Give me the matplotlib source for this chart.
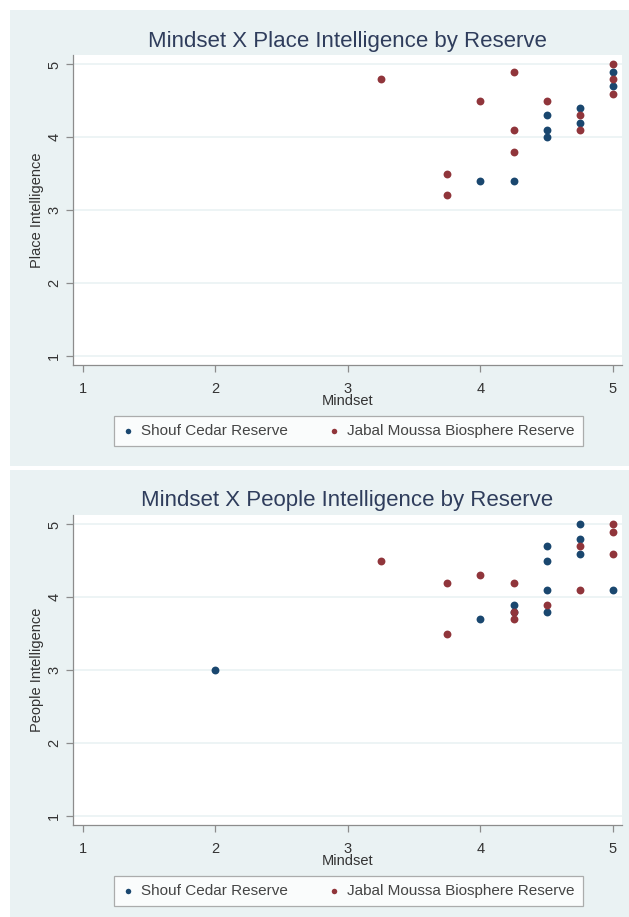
import matplotlib
matplotlib.use("Agg")
import matplotlib.pyplot as plt
from matplotlib.patches import Rectangle


# Place Intelligence panel
shouf_mindset_place = [4, 4.25, 4.5, 4.5, 4.5, 4.75, 4.75, 5, 5]
shouf_place = [3.4, 3.4, 4.3, 4.1, 4.0, 4.4, 4.2, 4.9, 4.7]
jabal_mindset_place = [3.25, 3.75, 3.75, 4, 4.25, 4.25, 4.25, 4.5, 4.75, 4.75, 5, 5, 5]
jabal_place = [4.8, 3.5, 3.2, 4.5, 4.9, 4.1, 3.8, 4.5, 4.3, 4.1, 5.0, 4.8, 4.6]

# People Intelligence panel
shouf_mindset_people = [2, 4, 4.25, 4.25, 4.5, 4.5, 4.5, 4.5, 4.75, 4.75, 4.75, 5]
shouf_people = [3.0, 3.7, 3.9, 3.8, 4.7, 4.5, 4.1, 3.8, 5.0, 4.8, 4.6, 4.1]
jabal_mindset_people = [3.25, 3.75, 3.75, 4, 4.25, 4.25, 4.25, 4.5, 4.75, 4.75, 5, 5, 5]
jabal_people = [4.5, 4.2, 3.5, 4.3, 4.2, 3.8, 3.7, 3.9, 4.7, 4.1, 5.0, 4.9, 4.6]

ticks = [1, 2, 3, 4, 5]
series_names = ["Shouf Cedar Reserve", "Jabal Moussa Biosphere Reserve"]

W, H = 629, 917
BG = "#eaf2f3"
NAVY = "#1a476f"
MAROON = "#90353b"
TITLE_COLOR = "#2f3d5c"
TEXT_COLOR = "#333333"

plt.rcParams["font.family"] = ["Liberation Sans", "DejaVu Sans"]


def fig_box(left, top, width, height):
    # pixel box (from top-left) -> figure fraction
    return [left / W, 1 - (top + height) / H, width / W, height / H]


def draw_panel(fig, off, title, ylabel, sx, sy, jx, jy):
    bg = Rectangle((10 / W, 1 - (off + 456) / H), 619 / W, 456 / H,
                   transform=fig.transFigure, facecolor=BG, edgecolor="none", zorder=-10)
    fig.patches.append(bg)
    ax = fig.add_axes(fig_box(73, off + 45, 549, 310))
    ax.set_facecolor("white")
    ax.scatter(sx, sy, s=32, color=NAVY, label=series_names[0], zorder=3, linewidths=0)
    ax.scatter(jx, jy, s=32, color=MAROON, label=series_names[1], zorder=4, linewidths=0)
    ax.set_xlim(0.927, 5.068)
    ax.set_ylim(0.87, 5.13)
    ax.set_xticks(ticks)
    ax.set_yticks(ticks)
    ax.grid(axis="y", color=BG, linewidth=1.2)
    ax.set_axisbelow(True)
    for side in ["top", "right"]:
        ax.spines[side].set_visible(False)
    for side in ["left", "bottom"]:
        ax.spines[side].set_color("#8c8c8c")
        ax.spines[side].set_linewidth(0.9)
    ax.tick_params(colors="#8c8c8c", length=5, width=0.9, labelcolor=TEXT_COLOR,
                   labelsize=10.5)
    ax.tick_params(axis="x", pad=7)
    for lab in ax.get_yticklabels():
        lab.set_rotation(90)
        lab.set_va("center")
    ax.set_xlabel("Mindset", fontsize=10.5, color=TEXT_COLOR, labelpad=-1)
    ax.set_ylabel(ylabel, fontsize=10.5, color=TEXT_COLOR, labelpad=2)
    fig.text(347.5 / W, 1 - (off + 31) / H, title, ha="center", va="center",
             fontsize=16, color=TITLE_COLOR)
    leg = fig.legend(loc="center", bbox_to_anchor=(348.5 / W, 1 - (off + 421) / H),
                     ncol=2, frameon=True, fancybox=False, fontsize=11,
                     markerscale=0.7, handlelength=0.8, handletextpad=0.45,
                     columnspacing=2.6, borderpad=0.55, borderaxespad=0,
                     handles=ax.collections[:2])
    leg.get_frame().set_edgecolor("#9a9a9a")
    leg.get_frame().set_linewidth(0.9)
    leg.get_frame().set_facecolor("white")
    for t in leg.get_texts():
        t.set_color("#444444")
    return ax


def main():
    fig = plt.figure(figsize=(W / 100, H / 100), dpi=100)
    fig.patch.set_facecolor("white")
    draw_panel(fig, 10, "Mindset X Place Intelligence by Reserve", "Place Intelligence",
               shouf_mindset_place, shouf_place, jabal_mindset_place, jabal_place)
    draw_panel(fig, 470, "Mindset X People Intelligence by Reserve", "People Intelligence",
               shouf_mindset_people, shouf_people, jabal_mindset_people, jabal_people)
    fig.savefig("out.png", dpi=100)


if __name__ == "__main__":
    main()
